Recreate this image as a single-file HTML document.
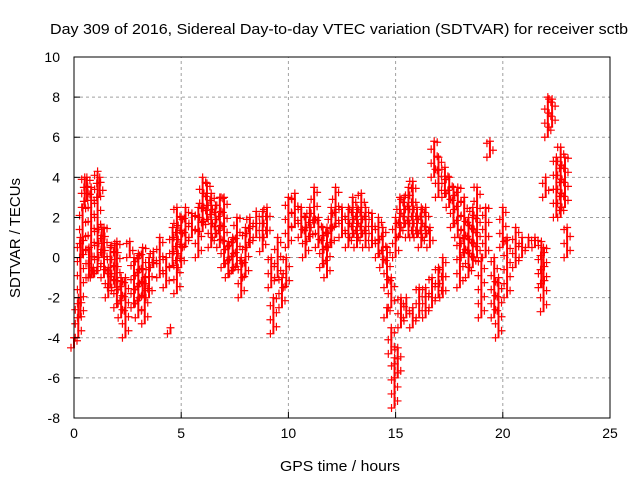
<!DOCTYPE html>
<html><head><meta charset="utf-8"><style>
body{margin:0;background:#fff;}
svg{display:block;font-family:"Liberation Sans",sans-serif;}
</style></head><body>
<svg id="chart" width="640" height="480">
<rect width="640" height="480" fill="#fff"/>
<text x="339" y="34" font-size="15" text-anchor="middle" textLength="578" lengthAdjust="spacingAndGlyphs">Day 309 of 2016, Sidereal Day-to-day VTEC variation (SDTVAR) for receiver sctb</text>
<text x="340" y="471" font-size="15" text-anchor="middle" textLength="120" lengthAdjust="spacingAndGlyphs">GPS time / hours</text>
<text transform="translate(20,238) rotate(-90)" font-size="15" text-anchor="middle" textLength="120" lengthAdjust="spacingAndGlyphs">SDTVAR / TECUs</text>
<g id="grid"></g><g id="marks"></g><g id="axes"></g>
</svg>
<script>
const xTicks=[0,5,10,15,20,25];
const yTicks=[-8,-6,-4,-2,0,2,4,6,8,10];
const times=[0,0.2,0.3,0.4,0.5,0.6,0.7,0.8,0.9,1.1,1.2,1.3,1.4,1.6,1.7,1.9,2.0,2.2,2.4,2.6,2.8,3.0,3.2,3.3,3.5,3.7,4.0,4.3,4.5,4.6,4.8,5.0,5.2,5.5,5.8,6.0,6.2,6.4,6.6,6.8,7.0,7.2,7.4,7.6,7.8,8.0,8.2,8.5,8.8,9.0,9.2,9.3,9.5,9.7,9.9,10.0,10.3,10.6,10.8,11.0,11.2,11.4,11.6,11.8,12.0,12.2,12.5,12.8,13.0,13.2,13.4,13.6,13.9,14.2,14.4,14.6,14.8,15.0,14.6,14.8,14.95,15.1,15.25,15.2,15.4,15.6,15.8,16.0,16.2,16.4,16.6,15.5,15.8,16.1,16.4,16.7,17.0,17.2,16.8,17.0,17.3,17.5,17.7,17.9,18.0,18.2,18.4,18.6,18.8,19.0,19.2,19.4,19.6,19.8,20.0,20.2,20.6,20.9,21.2,21.5,21.8,21.9,22.0,22.1,22.3,22.5,22.7,22.9,23.0];
const lows=[-4.5,-4,-3,0,2.5,2.8,-1,-1,-1,-0.8,3,0,-1,-2,-1.5,-1.5,-2.5,-3,-4,0,-2.5,-3,-2,-3.3,-2,-0.5,-1,-1.5,-3.8,-0.5,-1.8,-0.5,0.5,1,0,1.3,1.8,0.5,1,0.5,-0.5,-1,-0.8,-0.5,-2,-1,0.5,1,0.3,1,-1.5,-3.8,-1,-2.5,-1.5,0.5,1.5,1,0,0.8,1.5,0.5,-0.5,-1,0.5,1.5,1,0.5,1,0.5,1,0.5,0.5,0,-0.5,-1.5,-2.5,0,-3,-4.8,-7.5,-6,-3.5,1,1.5,1,1,1,0.5,1,0.5,-3,-3.5,-3,-3,-2.5,-2,-2,4,3,3,2.5,1.5,1,-1.5,0,-1,-0.5,0,-3,0,5,-3,-4,0.5,-2,-0.5,0,0.5,0.5,-1.5,-2.7,3,6,6.5,2,2,2.5,0];
const highs=[-4,-2,1,2.5,4,4,0.5,3.5,-0.5,4.3,4,1.5,1.5,-0.5,0.5,0.7,0.8,-1,-1,0.8,0,0.2,0.5,-1,0,0.3,1,0,-3.5,1.5,2.5,2,2.5,2.2,2.5,4,3.7,3.2,2.6,3,3,0.8,1,2,0,1.5,2,2.3,2.3,2.5,0,-2,1,-1,0,3,3.2,2.5,2,2.5,3.5,2,1.5,1.5,2.5,3.5,2.5,2.5,3,2.5,3.2,2.5,2.2,2,1.5,0.5,-1,2,-2.5,-3.5,-5,-4.5,-2,3,3,3.5,3.8,2.5,2.5,2.5,1.5,-2,-2.5,-1.5,-1.5,-1,-0.5,0,5.8,5,4.5,4,3.5,3.5,1,3,2,2.5,3.5,0,2.5,5.8,0,-1,2.5,1,1.5,1,1,1,0.8,0.5,4,8,7.9,5,5.5,5,1.5];
const X0=74,X1=610,Y0=418,Y1=57;
const xs=v=>X0+(v-0)/25*(X1-X0);
const ys=v=>Y0-(v+8)/18*(Y0-Y1);
const NS="http://www.w3.org/2000/svg";
function mk(tag,attrs,parent){const e=document.createElementNS(NS,tag);for(const k in attrs)e.setAttribute(k,attrs[k]);parent.appendChild(e);return e;}
const grid=document.getElementById('grid'),axes=document.getElementById('axes'),marks=document.getElementById('marks');
xTicks.forEach(t=>{
  if(t>0&&t<25){const l=mk('line',{x1:xs(t),x2:xs(t),y1:Y0,y2:Y1,stroke:'#a0a0a0','stroke-dasharray':'3,3'},grid);
  
  }
  const tk=mk('line',{x1:xs(t),x2:xs(t),y1:Y0,y2:Y0-6,stroke:'#000'},axes);
  
  
  const tx=mk('text',{x:xs(t),y:Y0+20,'font-size':14,'text-anchor':'middle'},axes);tx.textContent=t;
  
  
});
yTicks.forEach(t=>{
  if(t>-8&&t<10){const l=mk('line',{x1:X0,x2:X1,y1:ys(t),y2:ys(t),stroke:'#a0a0a0','stroke-dasharray':'3,3'},grid);
  
  }
  const tk=mk('line',{x1:X0,x2:X0+6,y1:ys(t),y2:ys(t),stroke:'#000'},axes);
  
  
  const tx=mk('text',{x:X0-14,y:ys(t)+5,'font-size':14,'text-anchor':'end'},axes);tx.textContent=t;
  
  
});
const frame=mk('rect',{x:X0,y:Y1,width:X1-X0,height:Y0-Y1,fill:'none',stroke:'#000'},axes);


function plus(x,y){
  const p=mk('path',{d:`M${x-4},${y}H${x+4}M${x},${y-4}V${y+4}`,stroke:'#f00','stroke-width':1.2,fill:'none'},marks);
  
  
}
times.forEach((t,i)=>{
  const lo=lows[i],hi=highs[i],x=xs(t);
  const seg=mk('line',{x1:x,x2:x,y1:ys(lo),y2:ys(hi),stroke:'#f00','stroke-width':2},marks);
  
  
  let k=0;
  for(let v=lo;v<=hi+1e-9;v+=0.35){plus(x+(k%2?3:-3),ys(v));k++;}
  plus(x,ys(hi));
});
</script>
</body></html>
